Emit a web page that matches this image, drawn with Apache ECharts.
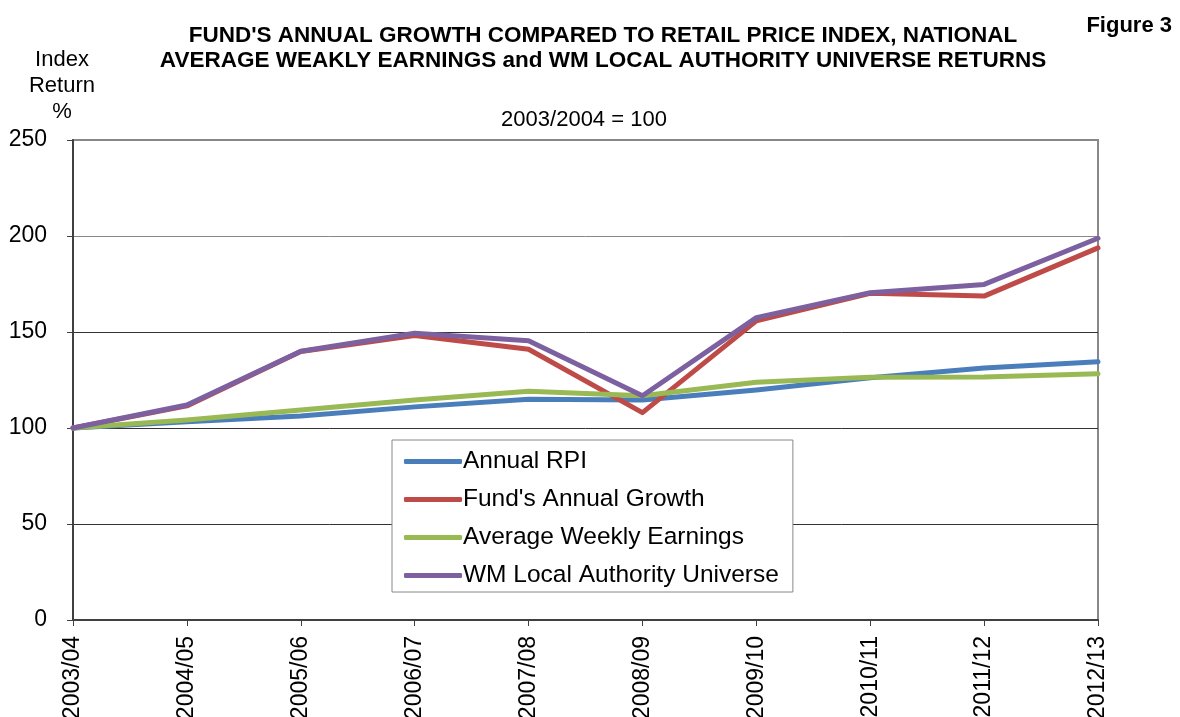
<!DOCTYPE html>
<html>
<head>
<meta charset="utf-8">
<title>Figure 3</title>
<script src="https://cdn.jsdelivr.net/npm/echarts@6/dist/echarts.min.js"></script>
<style>
  html, body { margin: 0; padding: 0; background: #fff; }
  #main { width: 1180px; height: 717px; }
</style>
</head>
<body>
<div id="main"></div>
<script>
// index values, 2003/2004 = 100
const years = ['2003/04', '2004/05', '2005/06', '2006/07', '2007/08', '2008/09', '2009/10', '2010/11', '2011/12', '2012/13'];
const annualRpi = [100, 103.3, 106.2, 111, 115, 114.6, 119.8, 126.2, 131.2, 134.5];
const fundGrowth = [100, 111.5, 139.8, 148.2, 141, 108, 155.8, 170.2, 168.7, 193.8];
const weeklyEarnings = [100, 104.2, 109.4, 114.6, 119.2, 116.8, 123.8, 126.4, 126.6, 128.3];
const wmUniverse = [100, 112, 140, 149.3, 145.5, 116.8, 157.5, 170.5, 174.8, 198.8];

const font = 'Liberation Sans, Arial, sans-serif';

function line(name, data, color) {
  return {
    name: name,
    type: 'line',
    data: data,
    symbol: 'none',
    lineStyle: { color: color, width: 5, cap: 'round', join: 'round' },
    itemStyle: { color: color }
  };
}

const chart = echarts.init(document.getElementById('main'));
chart.setOption({
  animation: false,
  backgroundColor: '#fff',
  textStyle: { fontFamily: font },
  title: [
    {
      text: "FUND'S ANNUAL GROWTH COMPARED TO RETAIL PRICE INDEX, NATIONAL\nAVERAGE WEAKLY EARNINGS and WM LOCAL AUTHORITY UNIVERSE RETURNS",
      left: 598, top: 18, textAlign: 'center',
      textStyle: { fontSize: 22.5, fontWeight: 'bold', color: '#000', lineHeight: 25, fontFamily: font }
    },
    {
      text: 'Figure 3', right: 3, top: 10,
      textStyle: { fontSize: 22, fontWeight: 'bold', color: '#000', fontFamily: font }
    },
    {
      text: '2003/2004 = 100', left: 579, top: 104, textAlign: 'center',
      textStyle: { fontSize: 22, fontWeight: 'normal', color: '#000', fontFamily: font }
    },
    {
      text: 'Index\nReturn\n%', left: 57, top: 42, textAlign: 'center',
      textStyle: { fontSize: 22, fontWeight: 'normal', color: '#000', lineHeight: 26, fontFamily: font }
    }
  ],
  legend: {
    orient: 'vertical',
    left: 392, top: 440,
    padding: [9, 14, 4, 12],
    icon: 'roundRect',
    itemWidth: 58, itemHeight: 5, itemGap: 13,
    backgroundColor: '#fff',
    borderColor: '#888', borderWidth: 1,
    textStyle: { fontSize: 24.5, color: '#000', fontFamily: font, padding: [0, 0, 0, -4] },
    data: ['Annual RPI', "Fund's Annual Growth", 'Average Weekly Earnings', 'WM Local Authority Universe']
  },
  grid: {
    left: 73, right: 82, top: 140, bottom: 97,
    outerBoundsMode: 'none',
    show: true, borderColor: '#888', borderWidth: 2
  },
  xAxis: {
    type: 'category',
    data: years,
    boundaryGap: false,
    axisLine: { lineStyle: { color: '#404040', width: 2 } },
    axisTick: { show: true, alignWithLabel: true, length: 6, lineStyle: { color: '#404040', width: 1 } },
    axisLabel: { rotate: 90, fontSize: 23, color: '#000', margin: 16, fontFamily: font, interval: 0 },
    splitLine: { show: false }
  },
  yAxis: {
    type: 'value',
    min: 0, max: 250, interval: 50,
    axisLine: { show: true, lineStyle: { color: '#404040', width: 2 } },
    axisTick: { show: true, length: 6, lineStyle: { color: '#404040', width: 1 } },
    axisLabel: { fontSize: 23, color: '#000', margin: 26, fontFamily: font },
    splitLine: { show: true, lineStyle: { color: ['#333', '#333', '#333', '#333', '#888', '#888'], width: 1 } }
  },
  series: [
    line('Annual RPI', annualRpi, '#4A7EBB'),
    line("Fund's Annual Growth", fundGrowth, '#BE4B48'),
    line('Average Weekly Earnings', weeklyEarnings, '#98B954'),
    line('WM Local Authority Universe', wmUniverse, '#7D60A0')
  ]
});
</script>
</body>
</html>
